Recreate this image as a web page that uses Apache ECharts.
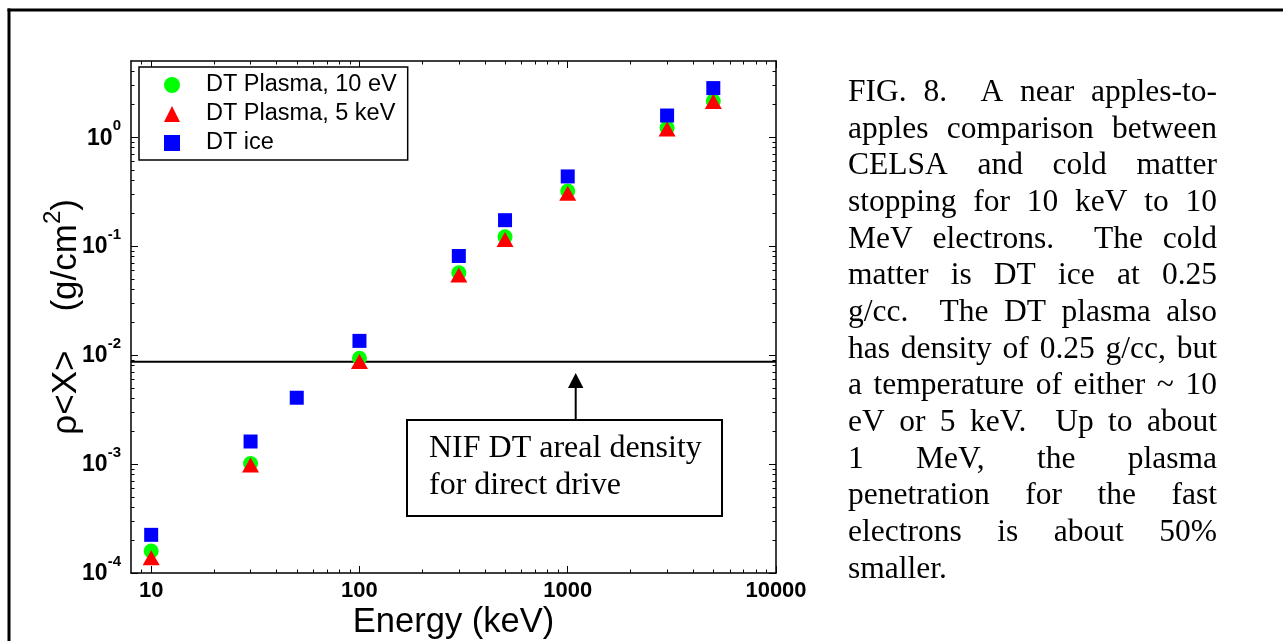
<!DOCTYPE html>
<html>
<head>
<meta charset="utf-8">
<title>FIG. 8</title>
<style>
  html, body { margin: 0; padding: 0; background: #fff; }
  #chart { width: 1283px; height: 641px; }
</style>
</head>
<body>
<div id="chart"></div>
<script src="https://cdn.jsdelivr.net/npm/echarts@6/dist/echarts.min.js"></script>
<script>
// energies in keV, rho<X> in g/cm^2
var energy = [10, 30, 100, 300, 500, 1000, 3000, 5000];
var plasma10eV = [1.59e-4, 1.01e-3, 9.35e-3, 0.057, 0.122, 0.32, 1.22, 2.15];
var plasma5keV = [1.38e-4, 0.98e-3, 8.72e-3, 0.0544, 0.115, 0.305, 1.19, 2.12];
var iceEnergy = [10, 30, 50, 100, 300, 500, 1000, 3000, 5000];
var dtIce = [2.24e-4, 1.61e-3, 4.06e-3, 1.35e-2, 0.0812, 0.173, 0.436, 1.58, 2.82];
// NIF areal density level, drawn across the whole energy range
var nifEnergy = [8, 10000];
var nifLevel = [8.7e-3, 8.7e-3];

var xMajor = [10, 100, 1000, 10000];
var xMinor = [9, 20, 30, 40, 50, 60, 70, 80, 90,
              200, 300, 400, 500, 600, 700, 800, 900,
              2000, 3000, 4000, 5000, 6000, 7000, 8000, 9000];
var yMajor = [1e-4, 1e-3, 1e-2, 1e-1, 1];
var yMinor = [2e-4, 3e-4, 4e-4, 5e-4, 6e-4, 7e-4, 8e-4, 9e-4,
              2e-3, 3e-3, 4e-3, 5e-3, 6e-3, 7e-3, 8e-3, 9e-3,
              2e-2, 3e-2, 4e-2, 5e-2, 6e-2, 7e-2, 8e-2, 9e-2,
              0.2, 0.3, 0.4, 0.5, 0.6, 0.7, 0.8, 0.9,
              2, 3, 4];

var captionLines = [
  'FIG. 8.  A near apples-to-',
  'apples comparison between',
  'CELSA and cold matter',
  'stopping for 10 keV to 10',
  'MeV electrons.  The cold',
  'matter is DT ice at 0.25',
  'g/cc.  The DT plasma also',
  'has density of 0.25 g/cc, but',
  'a temperature of either ~ 10',
  'eV or 5 keV.  Up to about',
  '1 MeV, the plasma',
  'penetration for the fast',
  'electrons is about 50%',
  'smaller.'
];
var boxLines = ['NIF DT areal density', 'for direct drive'];

var SANS = '"Liberation Sans", Arial, sans-serif';

function pairs(xs, ys) {
  return xs.map(function (x, i) { return [x, ys[i]]; });
}

function xAx(pos, values, len, withLine, withLabel, name) {
  return {
    type: 'log', logBase: 10, min: 8, max: 10000, position: pos,
    name: name || '', nameLocation: 'middle', nameGap: 32, nameMoveOverlap: false,
    nameTextStyle: { fontFamily: SANS, fontSize: 34.5, lineHeight: 35, color: '#000' },
    axisLine: { show: withLine, onZero: false, lineStyle: { color: '#000', width: 1.5 } },
    axisTick: { show: true, inside: true, length: len, customValues: values,
                lineStyle: { color: '#000', width: 1 } },
    axisLabel: { show: withLabel, customValues: values, margin: 7, color: '#000',
                 formatter: function (v) { return String(Math.round(v)); },
                 fontFamily: SANS, fontSize: 22, fontWeight: 'bold', lineHeight: 22 },
    minorTick: { show: false },
    splitLine: { show: false }
  };
}

function yAx(pos, values, len, withLine, withLabel, name) {
  return {
    type: 'log', logBase: 10, min: 1e-4, max: 5, position: pos,
    name: name || '', nameLocation: 'middle', nameRotate: 90, nameGap: 47, nameMoveOverlap: false,
    nameTextStyle: {
      color: '#000',
      rich: {
        p: { fontSize: 1, lineHeight: 43 },
        m: { fontFamily: SANS, fontSize: 35, lineHeight: 35, verticalAlign: 'bottom', color: '#000' },
        s: { fontFamily: SANS, fontSize: 24, lineHeight: 24, verticalAlign: 'top', color: '#000' }
      }
    },
    axisLine: { show: withLine, onZero: false, lineStyle: { color: '#000', width: 1.5 } },
    axisTick: { show: true, inside: true, length: len, customValues: values,
                lineStyle: { color: '#000', width: 1 } },
    axisLabel: {
      show: withLabel, customValues: values, margin: 10, padding: [0, 0, 6, 0],
      formatter: function (v) {
        return '{p| }{b|10}{s|' + Math.round(Math.log10(v)) + '}';
      },
      rich: {
        p: { fontSize: 1, lineHeight: 31 },
        b: { fontFamily: SANS, fontSize: 23, fontWeight: 'bold', lineHeight: 23,
             verticalAlign: 'bottom', color: '#000' },
        s: { fontFamily: SANS, fontSize: 15, fontWeight: 'bold', lineHeight: 15,
             verticalAlign: 'top', color: '#000' }
      }
    },
    minorTick: { show: false },
    splitLine: { show: false }
  };
}

// justified caption, one text per word
var capFont = '31.5px "Liberation Serif"';
var ctx = document.createElement('canvas').getContext('2d');
ctx.font = capFont;
var capLeft = 848, capRight = 1217, capBase = 103.3, capStep = 36.67;
var graphics = [];
captionLines.forEach(function (line, i) {
  var parts = line.split(' ');
  var last = i === captionLines.length - 1;
  var wordsW = 0;
  parts.forEach(function (p) { wordsW += ctx.measureText(p).width; });
  var gap = last ? ctx.measureText(' ').width : (capRight - capLeft - wordsW) / (parts.length - 1);
  var x = capLeft;
  var y = capBase + i * capStep - 10.5;
  parts.forEach(function (p) {
    if (p) {
      graphics.push({
        type: 'text', x: x, y: y, silent: true,
        style: { text: p, font: capFont, fill: '#000', align: 'left', verticalAlign: 'middle',
                 textAlign: 'left', textVerticalAlign: 'middle' }
      });
    }
    x += ctx.measureText(p).width + gap;
  });
});

// page frame
graphics.push({ type: 'line', silent: true, shape: { x1: 7.5, y1: 10, x2: 1283, y2: 10 },
                style: { stroke: '#000', lineWidth: 3 } });
graphics.push({ type: 'line', silent: true, shape: { x1: 9, y1: 8.5, x2: 9, y2: 641 },
                style: { stroke: '#000', lineWidth: 3 } });

// annotation box with arrow
graphics.push({ type: 'rect', silent: true, shape: { x: 407, y: 420, width: 315, height: 96 },
                style: { fill: '#fff', stroke: '#000', lineWidth: 2 } });
graphics.push({ type: 'line', silent: true, shape: { x1: 575.7, y1: 420, x2: 575.7, y2: 386 },
                style: { stroke: '#000', lineWidth: 2 } });
graphics.push({ type: 'polygon', silent: true,
                shape: { points: [[568, 388], [583.4, 388], [575.7, 373]] },
                style: { fill: '#000' } });
boxLines.forEach(function (t, i) {
  graphics.push({
    type: 'text', x: 429, y: 459 + i * 37 - 10.7, silent: true,
    style: { text: t, font: '32px "Liberation Serif"', fill: '#000', align: 'left', verticalAlign: 'middle',
             textAlign: 'left', textVerticalAlign: 'middle' }
  });
});

var myChart = echarts.init(document.getElementById('chart'));

var option = {
  backgroundColor: '#fff',
  animation: false,
  grid: { left: 131, right: 507, top: 61, bottom: 68, containLabel: false, outerBoundsMode: 'none' },
  legend: {
    orient: 'vertical', left: 139, top: 67,
    padding: [6, 11, 5, 25], itemGap: 5, itemWidth: 16, itemHeight: 16,
    borderColor: '#000', borderWidth: 1.5, backgroundColor: '#fff',
    selectedMode: false,
    textStyle: { fontFamily: SANS, fontSize: 23.5, lineHeight: 23, padding: [0, 0, 0, 21], color: '#000' },
    data: ['DT Plasma, 10 eV', 'DT Plasma, 5 keV', 'DT ice']
  },
  xAxis: [
    xAx('bottom', xMajor, 7, true, true, 'Energy (keV)'),
    xAx('bottom', xMinor, 3.5, false, false),
    xAx('top', xMajor, 7, true, false),
    xAx('top', xMinor, 3.5, false, false)
  ],
  yAxis: [
    yAx('left', yMajor, 7, true, true, '{p| }{m|ρ<X>    (g/cm}{s|2}{m|)}'),
    yAx('left', yMinor, 3.5, false, false),
    yAx('right', yMajor, 7, true, false),
    yAx('right', yMinor, 3.5, false, false)
  ],
  series: [
    {
      name: 'NIF level', type: 'line', data: pairs(nifEnergy, nifLevel),
      symbol: 'none', silent: true,
      lineStyle: { color: '#000', width: 2, type: 'solid' },
      z: 1
    },
    {
      name: 'DT Plasma, 10 eV', type: 'scatter', symbol: 'circle', symbolSize: 15,
      itemStyle: { color: '#00ff00', opacity: 1 },
      data: pairs(energy, plasma10eV),
      z: 2
    },
    {
      name: 'DT Plasma, 5 keV', type: 'scatter', symbol: 'triangle', symbolSize: [17, 15],
      itemStyle: { color: '#ff0000', opacity: 1 },
      data: pairs(energy, plasma5keV),
      z: 3
    },
    {
      name: 'DT ice', type: 'scatter', symbol: 'rect', symbolSize: 14,
      itemStyle: { color: '#0000ff', opacity: 1 },
      data: pairs(iceEnergy, dtIce),
      z: 4
    }
  ],
  graphic: graphics
};

myChart.setOption(option);
</script>
</body>
</html>
